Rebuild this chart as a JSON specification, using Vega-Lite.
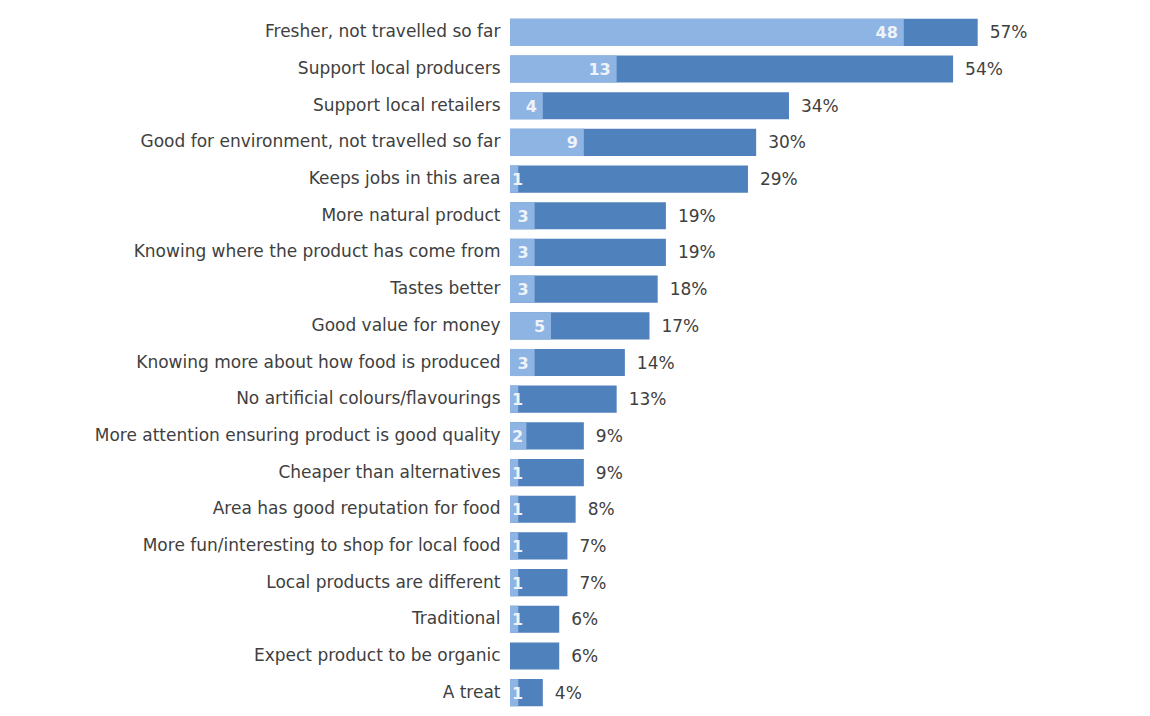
{
  "$schema": "https://vega.github.io/schema/vega-lite/v6.json",
  "autosize": "none",
  "padding": {"left": 510, "top": 14, "right": 0, "bottom": 0},
  "width": 640,
  "height": 697,
  "background": "white",
  "config": {"view": {"stroke": null}, "font": "DejaVu Sans"},
  "data": {"values": [
    {"reason": "Fresher, not travelled so far", "total": 57, "first": 48},
    {"reason": "Support local producers", "total": 54, "first": 13},
    {"reason": "Support local retailers", "total": 34, "first": 4},
    {"reason": "Good for environment, not travelled so far", "total": 30, "first": 9},
    {"reason": "Keeps jobs in this area", "total": 29, "first": 1},
    {"reason": "More natural product", "total": 19, "first": 3},
    {"reason": "Knowing where the product has come from", "total": 19, "first": 3},
    {"reason": "Tastes better", "total": 18, "first": 3},
    {"reason": "Good value for money", "total": 17, "first": 5},
    {"reason": "Knowing more about how food is produced", "total": 14, "first": 3},
    {"reason": "No artificial colours/flavourings", "total": 13, "first": 1},
    {"reason": "More attention ensuring product is good quality", "total": 9, "first": 2},
    {"reason": "Cheaper than alternatives", "total": 9, "first": 1},
    {"reason": "Area has good reputation for food", "total": 8, "first": 1},
    {"reason": "More fun/interesting to shop for local food", "total": 7, "first": 1},
    {"reason": "Local products are different", "total": 7, "first": 1},
    {"reason": "Traditional", "total": 6, "first": 1},
    {"reason": "Expect product to be organic", "total": 6, "first": null},
    {"reason": "A treat", "total": 4, "first": 1}
  ]},
  "transform": [{"calculate": "datum.total + '%'", "as": "pct"}],
  "encoding": {
    "y": {
      "field": "reason", "type": "nominal", "sort": null,
      "scale": {"paddingInner": 0.26, "paddingOuter": 0.13},
      "axis": {"title": null, "domain": false, "ticks": false, "labelPadding": 10, "labelFontSize": 17, "labelColor": "#404040", "labelLimit": 600}
    }
  },
  "layer": [
    {
      "mark": {"type": "bar", "color": "#4F81BD"},
      "encoding": {"x": {"field": "total", "type": "quantitative", "scale": {"domain": [0, 78], "nice": false, "zero": true}, "axis": null}}
    },
    {
      "mark": {"type": "bar", "color": "#8DB4E2"},
      "encoding": {"x": {"field": "first", "type": "quantitative"}}
    },
    {
      "mark": {"type": "text", "align": "left", "baseline": "middle", "dx": 12, "dy": 1, "fontSize": 17, "color": "#404040"},
      "encoding": {"x": {"field": "total", "type": "quantitative"}, "text": {"field": "pct", "type": "nominal"}}
    },
    {
      "transform": [{"filter": "datum.first != null && datum.first > 2"}],
      "mark": {"type": "text", "align": "right", "baseline": "middle", "dx": -6, "dy": 1, "fontSize": 16, "fontWeight": "bold", "color": "#EEF3FA"},
      "encoding": {"x": {"field": "first", "type": "quantitative"}, "text": {"field": "first", "type": "quantitative"}}
    },
    {
      "transform": [{"filter": "datum.first != null && datum.first <= 2"}],
      "mark": {"type": "text", "align": "left", "baseline": "middle", "dx": 2, "dy": 1, "fontSize": 16, "fontWeight": "bold", "color": "#EEF3FA"},
      "encoding": {"x": {"datum": 0, "type": "quantitative"}, "text": {"field": "first", "type": "quantitative"}}
    }
  ]
}
